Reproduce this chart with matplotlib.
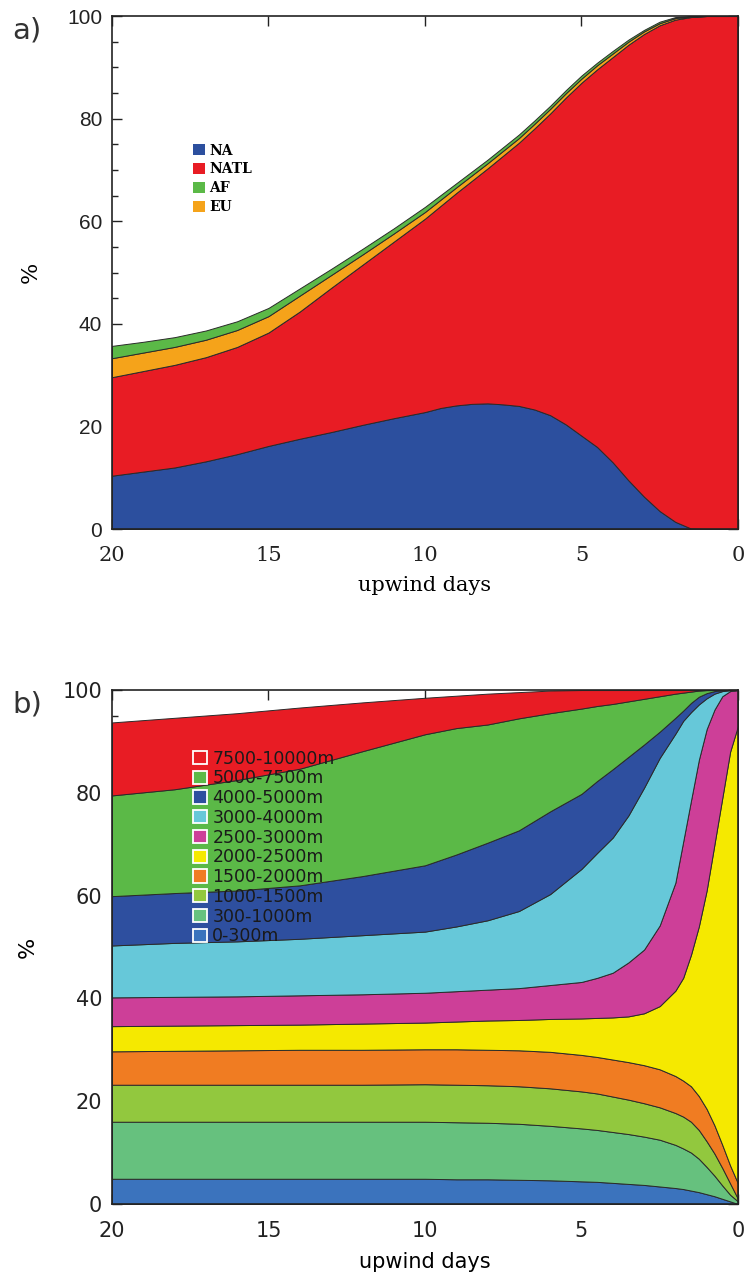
import matplotlib.pyplot as plt
from matplotlib.patches import Patch
from matplotlib.ticker import MultipleLocator

# (a) source region of air mass, % per upwind day
days_a = [20, 19, 18, 17, 16, 15, 14, 13, 12, 11, 10, 9.5, 9, 8.5, 8, 7.5, 7, 6.5, 6,
          5.5, 5, 4.5, 4, 3.5, 3, 2.5, 2, 1.5, 1, 0.5, 0]
na = [10.4, 11.2, 12.0, 13.2, 14.6, 16.2, 17.6, 18.9, 20.3, 21.6, 22.8, 23.6, 24.1, 24.4,
      24.5, 24.3, 24.0, 23.3, 22.2, 20.4, 18.2, 16.0, 13.0, 9.5, 6.3, 3.5, 1.4, 0.1, 0, 0, 0]
natl = [19.2, 19.6, 20.0, 20.3, 20.9, 22.1, 24.8, 28.1, 31.2, 34.4, 37.7, 39.4, 41.4, 43.5,
        45.8, 48.5, 51.3, 54.8, 58.8, 63.7, 68.8, 73.6, 79.0, 84.9, 90.2, 94.7, 97.9, 99.7,
        100, 100, 100]
eu = [3.7, 3.6, 3.5, 3.4, 3.3, 3.2, 3.1, 2.5, 2.0, 1.6, 1.3, 1.2, 1.1, 1.05, 1.0, 0.95,
      0.9, 0.9, 0.9, 0.85, 0.8, 0.8, 0.7, 0.6, 0.5, 0.4, 0.3, 0.1, 0, 0, 0]
af = [2.4, 2.1, 1.9, 1.8, 1.7, 1.6, 1.4, 1.2, 1.1, 1.0, 1.0, 0.9, 0.8, 0.75, 0.7, 0.7,
      0.7, 0.65, 0.6, 0.6, 0.6, 0.5, 0.5, 0.4, 0.3, 0.3, 0.2, 0.1, 0, 0, 0]

# (b) altitude of air mass, % per upwind day (layers from the ground up)
days_b = [20, 18, 16, 14, 12, 10, 9, 8, 7, 6, 5, 4.5, 4, 3.5, 3, 2.5, 2,
          1.75, 1.5, 1.25, 1, 0.75, 0.5, 0.25, 0]
h_0_300 = [4.9, 4.9, 4.9, 4.9, 4.9, 4.9, 4.8, 4.8, 4.7, 4.6, 4.4, 4.3, 4.1,
           3.9, 3.7, 3.4, 3.1, 2.9, 2.6, 2.3, 1.9, 1.5, 1.0, 0.5, 0]
h_300_1000 = [11.1, 11.1, 11.1, 11.1, 11.1, 11.1, 11.1, 11.0, 10.9, 10.6, 10.3, 10.1, 9.9,
              9.7, 9.4, 9.1, 8.4, 7.9, 7.4, 6.5, 5.3, 4.0, 2.6, 1.3, 0.5]
h_1000_1500 = [7.2, 7.2, 7.2, 7.2, 7.2, 7.3, 7.3, 7.3, 7.3, 7.3, 7.2, 7.1, 6.9,
               6.7, 6.5, 6.3, 6.2, 6.2, 6.0, 5.6, 5.0, 4.3, 3.4, 2.2, 0.5]
h_1500_2000 = [6.5, 6.6, 6.7, 6.8, 6.8, 6.8, 6.9, 6.9, 7.0, 7.1, 7.1, 7.1, 7.2,
               7.3, 7.4, 7.4, 7.2, 7.0, 6.9, 6.6, 6.3, 5.5, 4.5, 3.5, 3.0]
h_2000_2500 = [4.9, 4.9, 4.9, 4.9, 5.1, 5.2, 5.4, 5.7, 5.9, 6.4, 7.1, 7.6, 8.2,
               8.9, 10.1, 12.3, 16.6, 20.0, 25.6, 33.0, 42.5, 54.7, 67.5, 80.5, 89.0]
h_2500_3000 = [5.6, 5.6, 5.6, 5.7, 5.7, 5.8, 5.9, 6.0, 6.2, 6.6, 7.1, 7.8, 8.7,
               10.5, 12.4, 15.7, 21.0, 26.5, 30.0, 32.4, 31.4, 26.2, 19.8, 11.8, 7.0]
h_3000_4000 = [10.1, 10.5, 10.7, 11.0, 11.5, 11.9, 12.6, 13.5, 15.0, 17.7, 22.0, 24.3, 26.3,
               28.6, 31.5, 32.6, 29.0, 23.5, 17.2, 10.8, 6.0, 3.1, 1.0, 0.2, 0]
h_4000_5000 = [9.6, 9.7, 9.9, 10.4, 11.5, 12.9, 14.0, 15.1, 15.7, 16.1, 14.6, 14.0, 13.3,
               11.4, 8.4, 5.1, 3.1, 2.0, 1.8, 1.5, 1.0, 0.5, 0.2, 0, 0]
h_5000_7500 = [19.6, 20.2, 21.5, 22.7, 24.3, 25.5, 24.6, 23.0, 21.8, 19.1, 16.6, 14.6, 12.7,
               10.8, 8.9, 6.9, 4.7, 3.5, 2.2, 1.2, 0.6, 0.2, 0, 0, 0]
h_7500_10000 = [14.2, 13.9, 13.0, 11.9, 9.5, 7.1, 6.3, 6.0, 5.1, 4.4, 3.6, 3.1, 2.7,
                2.2, 1.7, 1.2, 0.7, 0.5, 0.3, 0.1, 0, 0, 0, 0, 0]

x_ticks = [20, 15, 10, 5, 0]
y_ticks = [0, 20, 40, 60, 80, 100]

regions = ["NA", "NATL", "AF", "EU"]
region_colors = {"NA": "#2c4f9e", "NATL": "#e81c24", "AF": "#5bb947", "EU": "#f5a31a"}

layers = ["0-300m", "300-1000m", "1000-1500m", "1500-2000m", "2000-2500m",
          "2500-3000m", "3000-4000m", "4000-5000m", "5000-7500m", "7500-10000m"]
layer_colors = ["#3b73bd", "#66c17e", "#92c83e", "#f07c22", "#f5e900",
                "#cd3f98", "#66c8d9", "#2e4f9f", "#5bb947", "#e81c24"]

EDGE = "#2a2a2a"

fig = plt.figure(figsize=(7.53, 12.72), dpi=100)
ax_a = fig.add_axes([0.1487, 0.5841, 0.8313, 0.4033])
ax_b = fig.add_axes([0.1487, 0.0535, 0.8313, 0.4040])


def setup_axes(ax, serif):
    ax.set_xlim(20, 0)
    ax.set_ylim(0, 100)
    ax.set_axisbelow(True)
    ax.yaxis.set_minor_locator(MultipleLocator(5))
    ax.tick_params(which="both", direction="in", top=True, right=True, width=1.0, colors="#222222")
    ax.tick_params(which="major", length=7)
    ax.tick_params(which="minor", length=4)
    ax.tick_params(axis="x", pad=12)
    ax.tick_params(axis="y", pad=7)
    for spine in ax.spines.values():
        spine.set_linewidth(1.2)
        spine.set_color("#222222")
    xfont = "DejaVu Serif" if serif else "DejaVu Sans"
    yfont = "Liberation Sans" if serif else "DejaVu Sans"
    ax.set_xticks(x_ticks)
    ax.set_xticklabels([str(t) for t in x_ticks], fontfamily=xfont, fontsize=15)
    ax.set_yticks(y_ticks)
    ax.set_yticklabels([str(t) for t in y_ticks], fontfamily=yfont, fontsize=15)
    ax.set_xlabel("upwind days", fontfamily=xfont, fontsize=15, labelpad=8)
    ax.set_ylabel("%", fontfamily=xfont, fontsize=16, labelpad=18)


# panel a: stacked source regions (NA, NATL, EU, AF from the bottom)
ax_a.stackplot(days_a, na, natl, eu, af,
               colors=[region_colors["NA"], region_colors["NATL"],
                       region_colors["EU"], region_colors["AF"]],
               edgecolor=EDGE, linewidth=0.7)
setup_axes(ax_a, serif=True)
handles_a = [Patch(facecolor=region_colors[r], edgecolor="none") for r in regions]
ax_a.legend(handles_a, regions, loc="upper left", bbox_to_anchor=(0.118, 0.765),
            frameon=False, borderpad=0, handlelength=0.85, handleheight=0.85,
            handletextpad=0.35, labelspacing=0.35,
            prop={"family": "DejaVu Serif", "weight": "bold", "size": 10})
fig.text(12 / 753, 1 - 30 / 1272, "a)", fontsize=21, va="center", ha="left",
         fontfamily="DejaVu Sans", color="#333333")

# panel b: stacked altitude layers
ax_b.stackplot(days_b, h_0_300, h_300_1000, h_1000_1500, h_1500_2000, h_2000_2500,
               h_2500_3000, h_3000_4000, h_4000_5000, h_5000_7500, h_7500_10000,
               colors=layer_colors, edgecolor=EDGE, linewidth=0.7)
setup_axes(ax_b, serif=False)
handles_b = [Patch(facecolor=c, edgecolor="white", linewidth=1.3) for c in layer_colors]
ax_b.legend(handles_b[::-1], layers[::-1], loc="upper left", bbox_to_anchor=(0.116, 0.901),
            frameon=False, borderpad=0, handlelength=0.8, handleheight=0.8,
            handletextpad=0.3, labelspacing=0.1,
            prop={"family": "DejaVu Sans", "size": 12.5}, labelcolor="#1a1a1a")
fig.text(12 / 753, 1 - 705 / 1272, "b)", fontsize=21, va="center", ha="left",
         fontfamily="DejaVu Sans", color="#333333")

fig.savefig("out.png", dpi=100)
